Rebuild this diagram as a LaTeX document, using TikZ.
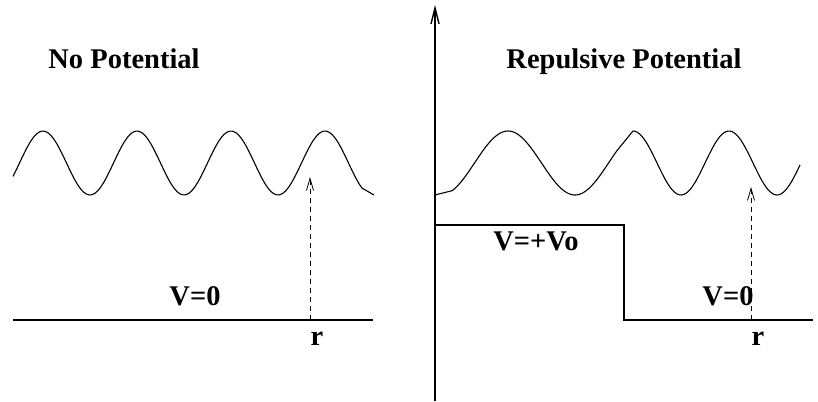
\documentclass[tikz,border=0pt]{standalone}
\usepackage{fontspec}
\setmainfont{Liberation Serif}
\usetikzlibrary{arrows.meta,positioning}

\begin{document}
\begin{tikzpicture}[x=1pt,y=-1pt]
\tikzstyle{heading}=[font=\fontsize{28.5}{34}\selectfont\bfseries, inner sep=0pt, anchor=base]
\tikzstyle{wave}=[line width=1.1pt, line join=round]
\tikzstyle{level}=[line width=2pt]
\tikzstyle{probe}=[dash pattern=on 5pt off 4pt, line width=0.8pt, -{Straight Barb[length=12pt,width=7pt]}]

\useasboundingbox (0,0) rectangle (818,401);

% axis between the two panels
\coordinate (axbot) at (435,401);
\coordinate (axtop) at (435,5);
\draw[line width=1.4pt, -{Straight Barb[length=16pt,width=8pt]}] (axbot) -- (axtop);

% left panel: free wave
\node[heading] (nopot) at (124,69) {No Potential};
\draw[wave] plot[domain=13:362, samples=120] (\x,{163-32*cos((\x-43)/94*360)}) -- (374,195);
\coordinate (zeroL) at (13,320);
\coordinate (zeroR) at (373,320);
\draw[level] (zeroL) -- (zeroR);
\node[heading] (vzeroa) at (195,305) {V=0};
\coordinate (ra) at (310,320);
\coordinate (rtipa) at (310,177);
\draw[probe] (ra) -- (rtipa);
\node[heading] (ra lbl) at (317,345) {r};

% right panel: wave over a step
\node[heading] (reppot) at (624,69) {Repulsive Potential};
\draw[wave] (435,195) -- (452,190.7)
  -- plot[domain=452:617, samples=80] (\x,{163-32*cos((\x-508)/134*360)})
  -- plot[domain=633:800, samples=80] (\x,{163-32*cos((\x-633)/96*360)});
\coordinate (stepa) at (435,225);
\coordinate (stepb) at (624,225);
\coordinate (stepc) at (624,320);
\coordinate (stepd) at (813,320);
\draw[level] (stepa) -- (stepb) -- (stepc) -- (stepd);
\node[heading] (vhigh) at (536,250) {V=+Vo};
\node[heading] (vzerob) at (728,305) {V=0};
\coordinate (rb) at (751,320);
\coordinate (rtipb) at (751,187);
\draw[probe] (rb) -- (rtipb);
\node[heading] (rb lbl) at (758,345) {r};
\end{tikzpicture}
\end{document}
